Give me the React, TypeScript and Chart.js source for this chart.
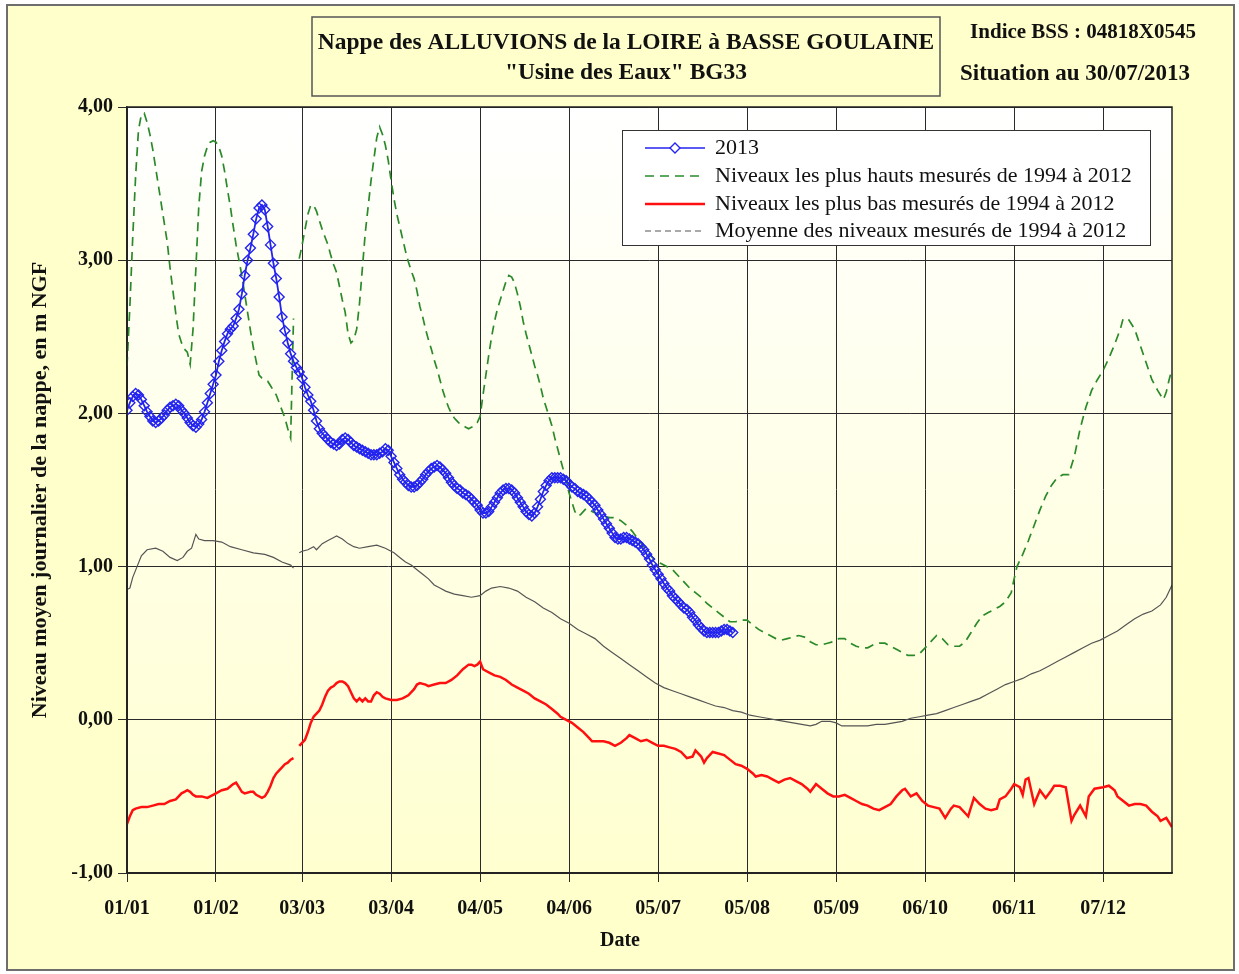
import React, { useEffect, useRef } from 'react';
import { Chart, registerables } from 'chart.js';

Chart.register(...registerables);

// ---------- axis definitions ----------
const TICK_DAYS = [0, 31, 61, 92, 123, 154, 185, 216, 247, 278, 309, 340];
const TICK_LABELS = ['01/01', '01/02', '03/03', '03/04', '04/05', '04/06', '05/07', '05/08', '05/09', '06/10', '06/11', '07/12'];
const Y_TICKS = [-1, 0, 1, 2, 3, 4];
const X_MAX_DAY = 364;

const SERIES_NAMES = [
  '2013',
  'Niveaux les plus hauts mesurés de 1994 à 2012',
  'Niveaux les plus bas mesurés de 1994 à 2012',
  'Moyenne des niveaux mesurés de 1994 à 2012',
];

// ---------- 2013 daily levels (day 0 = 01/01) ----------
const LEVELS_2013 = [
  2.02, 2.07, 2.11, 2.13, 2.12, 2.09, 2.05, 2.01, 1.98, 1.95,
  1.94, 1.95, 1.97, 1.99, 2.02, 2.04, 2.05, 2.06, 2.05, 2.02,
  2.00, 1.97, 1.94, 1.92, 1.91, 1.93, 1.96, 2.01, 2.07, 2.13,
  2.19, 2.25, 2.34, 2.41, 2.47, 2.52, 2.55, 2.57, 2.62, 2.68,
  2.78, 2.90, 3.00, 3.08, 3.17, 3.27, 3.34, 3.36, 3.33, 3.22,
  3.10, 2.98, 2.88, 2.76, 2.63, 2.54, 2.46, 2.39, 2.34, 2.30,
  2.27, 2.23, 2.17, 2.12, 2.08, 2.02, 1.95, 1.90, 1.87, 1.85,
  1.83, 1.81, 1.80, 1.79, 1.80, 1.83, 1.84, 1.83, 1.81, 1.79,
  1.78, 1.77, 1.76, 1.75, 1.74, 1.73, 1.73, 1.73, 1.74, 1.75,
  1.77, 1.76, 1.72, 1.68, 1.64, 1.60, 1.57, 1.55, 1.53, 1.52,
  1.52, 1.53, 1.55, 1.57, 1.60, 1.62, 1.64, 1.65, 1.66, 1.65,
  1.63, 1.61, 1.58, 1.55, 1.53, 1.51, 1.50, 1.48, 1.47, 1.46,
  1.44, 1.42, 1.40, 1.37, 1.35, 1.35, 1.36, 1.39, 1.42, 1.45,
  1.48, 1.50, 1.51, 1.51, 1.50, 1.48, 1.45, 1.42, 1.39, 1.36,
  1.34, 1.33, 1.35, 1.39, 1.44, 1.49, 1.53, 1.56, 1.58, 1.58,
  1.58, 1.58, 1.57, 1.56, 1.54, 1.52, 1.51, 1.49, 1.48, 1.47,
  1.46, 1.44, 1.42, 1.40, 1.37, 1.34, 1.31, 1.28, 1.25, 1.22,
  1.19, 1.18, 1.18, 1.19, 1.19, 1.18, 1.17, 1.16, 1.15, 1.13,
  1.11, 1.08, 1.05, 1.01, 0.98, 0.95, 0.92, 0.89, 0.86, 0.84,
  0.81, 0.79, 0.77, 0.75, 0.73, 0.72, 0.70, 0.67, 0.65, 0.62,
  0.60, 0.58, 0.57, 0.57, 0.57, 0.57, 0.57, 0.58, 0.59, 0.59,
  0.58, 0.57,
];

// ---------- highest levels 1994-2012: [day, level] ----------
const HIGH_LEVELS: [number, number | null][] = [
  [0, 2.31], [1, 2.70], [2, 3.15], [3, 3.55], [4, 3.85], [5, 3.95], [6, 3.96], [7, 3.90], [8, 3.82], [9, 3.72],
  [10, 3.60], [11, 3.48], [12, 3.36], [13, 3.24], [14, 3.12], [15, 2.95], [16, 2.80], [17, 2.65], [18, 2.52], [19, 2.46],
  [20, 2.42], [21, 2.40], [22, 2.32], [23, 2.55], [24, 2.95], [25, 3.35], [26, 3.58], [27, 3.68], [28, 3.74], [29, 3.77],
  [30, 3.78], [31, 3.77], [32, 3.74], [33, 3.68], [34, 3.58], [35, 3.46], [36, 3.35], [37, 3.22], [38, 3.10], [39, 3.00],
  [40, 2.90], [41, 2.78], [42, 2.66], [43, 2.54], [44, 2.43], [45, 2.34], [46, 2.25], [47, 2.23], [48, 2.22], [49, 2.21],
  [50, 2.18], [51, 2.15], [52, 2.12], [53, 2.07], [54, 2.02], [55, 1.97], [56, 1.90], [57, 1.84], [58, 2.62], [59, null],
  [60, 3.01], [61, 3.10], [62, 3.20], [63, 3.30], [64, 3.36], [65, 3.36], [66, 3.32], [67, 3.26], [68, 3.20], [69, 3.15],
  [70, 3.10], [71, 3.03], [72, 2.97], [73, 2.92], [74, 2.83], [75, 2.74], [76, 2.66], [77, 2.52], [78, 2.46], [79, 2.48],
  [80, 2.55], [81, 2.72], [82, 2.95], [83, 3.18], [84, 3.35], [85, 3.52], [86, 3.66], [87, 3.80], [88, 3.87], [89, 3.82],
  [90, 3.75], [91, 3.65], [92, 3.52], [93, 3.40], [94, 3.30], [95, 3.22], [96, 3.14], [97, 3.06], [98, 2.99], [99, 2.93],
  [100, 2.88], [101, 2.80], [102, 2.70], [103, 2.63], [104, 2.55], [105, 2.48], [106, 2.42], [107, 2.35], [108, 2.29], [109, 2.22],
  [110, 2.15], [111, 2.09], [112, 2.04], [113, 2.00], [114, 1.97], [115, 1.95], [116, 1.93], [117, 1.92], [118, 1.91], [119, 1.90],
  [120, 1.91], [121, 1.92], [122, 1.94], [123, 1.98], [124, 2.12], [125, 2.25], [126, 2.38], [127, 2.50], [128, 2.60], [129, 2.68],
  [130, 2.74], [131, 2.80], [132, 2.86], [133, 2.90], [134, 2.89], [135, 2.85], [136, 2.78], [137, 2.70], [138, 2.60], [139, 2.52],
  [140, 2.45], [141, 2.38], [142, 2.31], [143, 2.25], [144, 2.18], [145, 2.10], [146, 2.04], [147, 1.98], [148, 1.92], [149, 1.84],
  [150, 1.77], [151, 1.70], [152, 1.63], [153, 1.55], [154, 1.48], [155, 1.42], [156, 1.36], [157, 1.33], [158, 1.34], [159, 1.36],
  [160, 1.38], [162, 1.36], [164, 1.34], [166, 1.33], [168, 1.32], [170, 1.32], [172, 1.30], [174, 1.27], [176, 1.23], [178, 1.18],
  [180, 1.13], [182, 1.08], [184, 1.04], [186, 1.02], [188, 1.00], [190, 0.98], [192, 0.94], [194, 0.90], [196, 0.86], [198, 0.83],
  [200, 0.80], [202, 0.76], [204, 0.73], [206, 0.70], [208, 0.67], [210, 0.64], [212, 0.64], [214, 0.65], [216, 0.65], [218, 0.62],
  [220, 0.59], [222, 0.57], [224, 0.55], [226, 0.53], [228, 0.52], [230, 0.53], [232, 0.54], [234, 0.55], [236, 0.54], [238, 0.51],
  [240, 0.49], [242, 0.49], [244, 0.50], [246, 0.51], [248, 0.53], [250, 0.53], [252, 0.50], [254, 0.48], [256, 0.47], [258, 0.47],
  [260, 0.49], [262, 0.50], [264, 0.50], [266, 0.48], [268, 0.46], [270, 0.44], [272, 0.42], [274, 0.42], [276, 0.43], [278, 0.47],
  [280, 0.51], [282, 0.55], [284, 0.53], [286, 0.49], [288, 0.48], [290, 0.48], [292, 0.51], [294, 0.57], [296, 0.63], [298, 0.68],
  [300, 0.70], [302, 0.72], [304, 0.74], [306, 0.77], [308, 0.83], [309, 0.92], [310, 1.00], [312, 1.08], [314, 1.17], [316, 1.27],
  [318, 1.37], [320, 1.46], [322, 1.53], [324, 1.58], [326, 1.60], [328, 1.60], [330, 1.72], [332, 1.90], [334, 2.04], [336, 2.15],
  [338, 2.22], [340, 2.28], [342, 2.36], [344, 2.45], [346, 2.55], [347, 2.62], [349, 2.61], [351, 2.55], [353, 2.44], [355, 2.33],
  [357, 2.22], [359, 2.15], [361, 2.09], [362, 2.14], [363, 2.22], [364, 2.29],
];

// ---------- lowest levels 1994-2012: [day, level] ----------
const LOW_LEVELS: [number, number | null][] = [
  [0, -0.68], [1, -0.63], [2, -0.59], [3, -0.58], [5, -0.57], [7, -0.57], [9, -0.56], [11, -0.55], [13, -0.55], [15, -0.53],
  [17, -0.52], [18, -0.50], [19, -0.48], [20, -0.47], [21, -0.46], [22, -0.47], [23, -0.49], [24, -0.50], [26, -0.50], [28, -0.51],
  [29, -0.50], [31, -0.48], [33, -0.46], [35, -0.45], [37, -0.42], [38, -0.41], [39, -0.44], [40, -0.47], [41, -0.48], [43, -0.47],
  [44, -0.47], [45, -0.49], [47, -0.51], [48, -0.50], [49, -0.47], [50, -0.43], [51, -0.38], [52, -0.35], [53, -0.33], [54, -0.31],
  [55, -0.29], [56, -0.28], [57, -0.26], [58, -0.25], [59, null], [60, -0.17], [61, -0.15], [62, -0.13], [63, -0.08], [64, -0.02],
  [65, 0.02], [66, 0.04], [67, 0.06], [68, 0.10], [69, 0.15], [70, 0.19], [71, 0.21], [72, 0.22], [73, 0.24], [74, 0.25],
  [75, 0.25], [76, 0.24], [77, 0.22], [78, 0.18], [79, 0.14], [80, 0.12], [81, 0.14], [82, 0.12], [83, 0.14], [84, 0.12],
  [85, 0.12], [86, 0.16], [87, 0.18], [88, 0.17], [89, 0.15], [90, 0.14], [92, 0.13], [94, 0.13], [96, 0.14], [98, 0.16],
  [100, 0.20], [101, 0.23], [102, 0.24], [104, 0.23], [105, 0.22], [107, 0.23], [109, 0.24], [111, 0.24], [113, 0.26], [115, 0.29],
  [117, 0.33], [119, 0.36], [120, 0.36], [121, 0.35], [122, 0.36], [123, 0.38], [124, 0.33], [126, 0.31], [128, 0.29], [130, 0.28],
  [132, 0.26], [134, 0.23], [136, 0.21], [138, 0.19], [140, 0.17], [142, 0.14], [144, 0.12], [146, 0.10], [148, 0.07], [150, 0.04],
  [151, 0.02], [153, 0.00], [155, -0.02], [157, -0.05], [159, -0.08], [161, -0.12], [162, -0.14], [164, -0.14], [166, -0.14], [168, -0.15],
  [170, -0.17], [172, -0.15], [174, -0.12], [175, -0.10], [177, -0.12], [179, -0.14], [181, -0.13], [183, -0.15], [185, -0.17], [187, -0.17],
  [189, -0.18], [191, -0.19], [193, -0.21], [195, -0.25], [197, -0.24], [198, -0.20], [200, -0.24], [201, -0.28], [202, -0.25], [204, -0.21],
  [206, -0.22], [208, -0.23], [210, -0.26], [212, -0.29], [214, -0.30], [216, -0.32], [218, -0.35], [219, -0.37], [221, -0.36], [223, -0.37],
  [225, -0.39], [227, -0.41], [229, -0.39], [231, -0.38], [233, -0.40], [235, -0.42], [237, -0.45], [238, -0.47], [240, -0.42], [242, -0.45],
  [244, -0.48], [246, -0.50], [248, -0.50], [250, -0.49], [252, -0.51], [254, -0.53], [256, -0.55], [258, -0.56], [260, -0.58], [262, -0.59],
  [264, -0.57], [266, -0.55], [268, -0.50], [270, -0.46], [271, -0.45], [273, -0.50], [275, -0.48], [277, -0.53], [279, -0.56], [281, -0.57],
  [283, -0.58], [285, -0.64], [287, -0.58], [288, -0.56], [290, -0.57], [292, -0.61], [293, -0.63], [295, -0.51], [297, -0.55], [299, -0.58],
  [301, -0.59], [303, -0.58], [304, -0.52], [306, -0.50], [308, -0.45], [309, -0.42], [311, -0.44], [312, -0.49], [313, -0.39], [314, -0.38],
  [316, -0.55], [318, -0.46], [320, -0.51], [322, -0.46], [323, -0.43], [325, -0.43], [327, -0.44], [329, -0.66], [330, -0.62], [332, -0.56],
  [334, -0.63], [335, -0.50], [337, -0.45], [340, -0.44], [342, -0.43], [344, -0.46], [345, -0.50], [347, -0.53], [349, -0.56], [351, -0.55],
  [353, -0.55], [355, -0.56], [357, -0.60], [359, -0.63], [360, -0.66], [362, -0.64], [364, -0.70],
];

// ---------- mean levels 1994-2012: [day, level] ----------
const MEAN_LEVELS: [number, number | null][] = [
  [0, 0.85], [1, 0.86], [2, 0.93], [3.5, 1.00], [5, 1.07], [7, 1.11], [10, 1.12], [12.5, 1.10], [15, 1.06], [17.5, 1.04],
  [19.5, 1.06], [21, 1.10], [22.5, 1.12], [24, 1.21], [25, 1.18], [27, 1.17], [30, 1.17], [33, 1.16], [36, 1.13], [40, 1.11],
  [44, 1.09], [48, 1.08], [51, 1.06], [54, 1.03], [57, 1.01], [58, 0.99], [59, null], [60, 1.09], [61, 1.10], [63, 1.11],
  [65, 1.13], [66, 1.11], [68, 1.15], [70, 1.17], [72, 1.19], [73, 1.20], [75, 1.18], [77, 1.15], [79, 1.13], [81, 1.12],
  [84, 1.13], [87, 1.14], [90, 1.12], [93, 1.09], [95, 1.06], [97, 1.03], [99, 1.01], [101, 0.98], [103, 0.95], [105, 0.92],
  [107, 0.88], [109, 0.86], [111, 0.84], [114, 0.82], [117, 0.81], [120, 0.80], [123, 0.81], [125, 0.84], [127, 0.86], [130, 0.87],
  [133, 0.86], [136, 0.84], [139, 0.80], [142, 0.77], [145, 0.73], [148, 0.70], [151, 0.66], [154, 0.63], [157, 0.59], [160, 0.56],
  [163, 0.53], [166, 0.48], [169, 0.44], [172, 0.40], [175, 0.36], [178, 0.32], [181, 0.28], [184, 0.24], [187, 0.21], [190, 0.19],
  [193, 0.17], [196, 0.15], [199, 0.13], [202, 0.11], [205, 0.09], [208, 0.08], [211, 0.06], [214, 0.05], [217, 0.03], [220, 0.02],
  [223, 0.01], [226, 0.00], [229, -0.01], [232, -0.02], [235, -0.03], [238, -0.04], [240, -0.03], [242, -0.01], [245, -0.01], [247, -0.02],
  [249, -0.04], [252, -0.04], [255, -0.04], [258, -0.04], [261, -0.03], [264, -0.03], [267, -0.02], [270, -0.01], [273, 0.01], [276, 0.02],
  [279, 0.03], [282, 0.04], [285, 0.06], [288, 0.08], [291, 0.10], [294, 0.12], [297, 0.14], [300, 0.17], [303, 0.20], [306, 0.23],
  [309, 0.25], [312, 0.27], [315, 0.30], [318, 0.32], [321, 0.35], [324, 0.38], [327, 0.41], [330, 0.44], [333, 0.47], [336, 0.50],
  [339, 0.52], [342, 0.55], [345, 0.58], [348, 0.62], [351, 0.66], [354, 0.69], [357, 0.71], [360, 0.75], [362, 0.80], [364, 0.88],
];

// ---------- styling ----------
const SERIF = '"Liberation Serif", "Times New Roman", serif';
const BG_YELLOW = '#FFFFCC';
const BLUE = '#2424F0';
const GREEN = '#2A8A2A';
const RED = '#FF1010';
const GREY = '#555555';

const toPoints = (pairs: [number, number | null][]) => pairs.map(([x, y]) => ({ x, y }));

const decorPlugin = {
  id: 'decor',
  beforeDraw(chart: any) {
    const { ctx, chartArea: a, width, height } = chart;
    ctx.save();
    ctx.fillStyle = '#FFFFFF';
    ctx.fillRect(0, 0, width, height);
    // outer frame
    ctx.fillStyle = BG_YELLOW;
    ctx.fillRect(7, 5, 1227, 965);
    ctx.strokeStyle = '#6E6E6E';
    ctx.lineWidth = 2;
    ctx.strokeRect(7, 5, 1227, 965);
    // plot area gradient
    const g = ctx.createLinearGradient(0, a.top, 0, a.bottom);
    g.addColorStop(0, '#FFFFFF');
    g.addColorStop(1, '#FFFFD0');
    ctx.fillStyle = g;
    ctx.fillRect(a.left, a.top, a.right - a.left, a.bottom - a.top);
    ctx.restore();
  },
  afterDraw(chart: any) {
    const { ctx, chartArea: a } = chart;
    ctx.save();
    // plot border
    ctx.strokeStyle = '#222';
    ctx.lineWidth = 1.5;
    ctx.strokeRect(a.left, a.top, a.right - a.left, a.bottom - a.top);

    // title box
    ctx.fillStyle = BG_YELLOW;
    ctx.fillRect(312, 17, 628, 79);
    ctx.strokeStyle = '#555';
    ctx.lineWidth = 1.5;
    ctx.strokeRect(312, 17, 628, 79);
    ctx.fillStyle = '#111';
    ctx.textAlign = 'center';
    ctx.textBaseline = 'middle';
    ctx.font = `bold 23.5px ${SERIF}`;
    ctx.fillText('Nappe des ALLUVIONS de la LOIRE à BASSE GOULAINE', 626, 43);
    ctx.fillText('"Usine des Eaux" BG33', 626, 73);

    // right info
    ctx.font = `bold 21px ${SERIF}`;
    ctx.fillText('Indice BSS : 04818X0545', 1083, 33);
    ctx.font = `bold 23px ${SERIF}`;
    ctx.fillText('Situation au 30/07/2013', 1075, 74);

    // x axis title
    ctx.font = `bold 20px ${SERIF}`;
    ctx.fillText('Date', 620, 941);

    // legend
    const lx = 622, ly = 130, lw = 528, lh = 115;
    ctx.fillStyle = '#FFFFFF';
    ctx.fillRect(lx, ly, lw, lh);
    ctx.strokeStyle = '#333';
    ctx.lineWidth = 1;
    ctx.strokeRect(lx + 0.5, ly + 0.5, lw, lh);
    const rows = [148, 176, 204, 231];
    const ds = chart.data.datasets;
    rows.forEach((ry, i) => {
      const d = ds[i];
      ctx.save();
      ctx.strokeStyle = d.borderColor;
      ctx.lineWidth = i === 0 ? 1.5 : d.borderWidth;
      if (i === 1) ctx.setLineDash([9, 6]);
      if (i === 3) { ctx.setLineDash([6, 4]); ctx.lineWidth = 1.2; }
      ctx.beginPath();
      ctx.moveTo(645, ry);
      ctx.lineTo(705, ry);
      ctx.stroke();
      ctx.restore();
      if (i === 0) {
        ctx.save();
        ctx.strokeStyle = BLUE;
        ctx.fillStyle = '#FFFFFF';
        ctx.lineWidth = 1.4;
        ctx.beginPath();
        ctx.moveTo(675, ry - 5);
        ctx.lineTo(680, ry);
        ctx.lineTo(675, ry + 5);
        ctx.lineTo(670, ry);
        ctx.closePath();
        ctx.fill();
        ctx.stroke();
        ctx.restore();
      }
      ctx.fillStyle = '#111';
      ctx.textAlign = 'left';
      ctx.textBaseline = 'middle';
      ctx.font = `22px ${SERIF}`;
      ctx.fillText(d.label, 715, ry);
    });
    ctx.restore();
  },
};

export default function App() {
  const canvasRef = useRef<HTMLCanvasElement | null>(null);

  useEffect(() => {
    const canvas = canvasRef.current;
    if (!canvas) return;
    const chart = new Chart(canvas, {
      type: 'line',
      data: {
        datasets: [
          {
            label: SERIES_NAMES[0],
            data: LEVELS_2013.map((y, x) => ({ x, y })),
            borderColor: BLUE,
            borderWidth: 1.8,
            pointStyle: 'rectRot',
            pointRadius: 5,
            pointBorderWidth: 1.4,
            pointBorderColor: BLUE,
            pointBackgroundColor: 'rgba(255,255,255,0)',
            tension: 0,
          },
          {
            label: SERIES_NAMES[1],
            data: toPoints(HIGH_LEVELS),
            borderColor: GREEN,
            borderWidth: 1.7,
            borderDash: [9, 6],
            pointRadius: 0,
            spanGaps: false,
            tension: 0,
          },
          {
            label: SERIES_NAMES[2],
            data: toPoints(LOW_LEVELS),
            borderColor: RED,
            borderWidth: 2.5,
            pointRadius: 0,
            spanGaps: false,
            tension: 0,
          },
          {
            label: SERIES_NAMES[3],
            data: toPoints(MEAN_LEVELS),
            borderColor: GREY,
            borderWidth: 1.2,
            pointRadius: 0,
            spanGaps: false,
            tension: 0,
          },
        ],
      },
      options: {
        responsive: false,
        animation: false,
        devicePixelRatio: 1,
        layout: { padding: { left: 0, top: 107, right: 67, bottom: 0 } },
        plugins: {
          legend: { display: false },
          tooltip: { enabled: false },
          title: { display: false },
        },
        scales: {
          x: {
            type: 'linear',
            min: 0,
            max: X_MAX_DAY,
            afterBuildTicks: (scale: any) => {
              scale.ticks = TICK_DAYS.map((value) => ({ value }));
            },
            afterFit: (scale: any) => {
              scale.height = 101;
              scale.paddingLeft = 0;
              scale.paddingRight = 0;
            },
            ticks: {
              autoSkip: false,
              maxRotation: 0,
              minRotation: 0,
              padding: 15,
              color: '#111',
              font: { family: SERIF, size: 20, weight: 'bold' },
              callback: (value: any) => {
                const i = TICK_DAYS.indexOf(Number(value));
                return i >= 0 ? TICK_LABELS[i] : '';
              },
            },
            grid: { color: '#2a2a2a', lineWidth: 1, tickLength: 9, drawTicks: true, tickColor: '#2a2a2a' },
            border: { display: true, color: '#2a2a2a', width: 1.5 },
            title: { display: false },
          },
          y: {
            type: 'linear',
            min: -1,
            max: 4,
            afterBuildTicks: (scale: any) => {
              scale.ticks = Y_TICKS.map((value) => ({ value }));
            },
            afterFit: (scale: any) => {
              scale.width = 127;
              scale.paddingTop = 0;
              scale.paddingBottom = 0;
            },
            ticks: {
              padding: 5,
              color: '#111',
              font: { family: SERIF, size: 20, weight: 'bold' },
              callback: (value: any) => Number(value).toFixed(2).replace('.', ','),
            },
            grid: { color: '#2a2a2a', lineWidth: 1, tickLength: 9, drawTicks: true, tickColor: '#2a2a2a' },
            border: { display: true, color: '#2a2a2a', width: 1.5 },
            title: {
              display: true,
              text: 'Niveau moyen journalier de la nappe, en m NGF',
              color: '#111',
              font: { family: SERIF, size: 22, weight: 'bold' },
              padding: { top: 27, bottom: 0 },
            },
          },
        },
      },
      plugins: [decorPlugin],
    } as any);
    return () => chart.destroy();
  }, []);

  return (
    <div style={{ position: 'absolute', left: 0, top: 0, width: 1239, height: 974 }}>
      <canvas ref={canvasRef} width={1239} height={974} style={{ display: 'block' }} />
    </div>
  );
}
